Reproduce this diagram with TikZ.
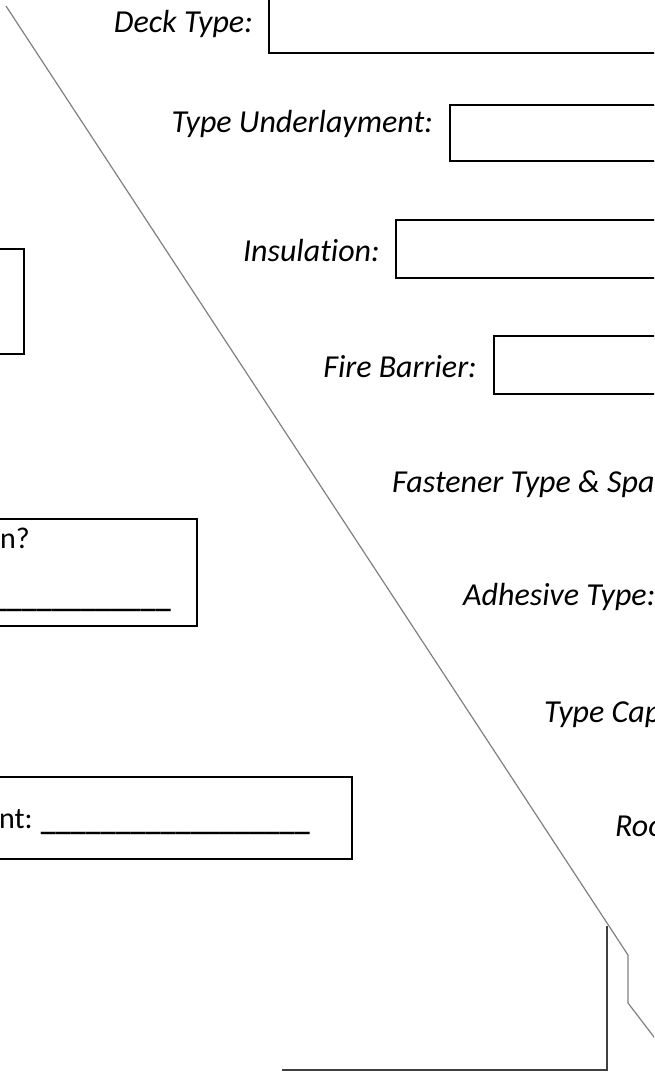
\documentclass[tikz,border=0pt]{standalone}
\usepackage{fontspec}
\setmainfont{Carlito}[Ligatures=NoCommon]
\begin{document}
\begin{tikzpicture}[x=1pt,y=-1pt,
    field/.style={draw, line width=1.6pt, anchor=north west, inner sep=0pt},
    lbl/.style={font=\fontsize{32}{38}\selectfont\itshape, inner sep=0pt},
    plain/.style={font=\fontsize{30}{36}\selectfont, inner sep=0pt},
    blank/.style={font=\fontsize{30}{36}\selectfont\bfseries, inner sep=0pt},
    cut/.style={draw=gray, line width=1.2pt}]
    \useasboundingbox (0,0) rectangle (654,1072);
    \clip (0,0) rectangle (654,1072);
    % boxes on the right side
    \node[field, minimum width=420pt, minimum height=57pt] (deckbox) at (268,-5) {};
    \node[field, minimum width=250pt, minimum height=56pt] (underbox) at (449,104) {};
    \node[field, minimum width=300pt, minimum height=58pt] (insbox) at (395,219) {};
    \node[field, minimum width=200pt, minimum height=58pt] (firebox) at (493,335) {};
    \node[lbl, anchor=base east] (decklbl) at (253,32) {Deck Type:};
    \node[lbl, anchor=base east] (underlbl) at (433,132) {Type Underlayment:};
    \node[lbl, anchor=base east] (inslbl) at (380,261) {Insulation:};
    \node[lbl, anchor=base east] (firelbl) at (477,377) {Fire Barrier:};
    \node[lbl, anchor=base west] (fastlbl) at (392,492) {Fastener Type \& Spa};
    \node[lbl, anchor=base west] (adhlbl) at (463,605) {Adhesive Type:};
    \node[lbl, anchor=base west] (caplbl) at (544,722) {Type Cap};
    \node[lbl, anchor=base west] (roolbl) at (615,836) {Roo};
    % boxes on the left side
    \node[field, minimum width=40pt, minimum height=105pt] (leftboxa) at (-17,248) {};
    \node[field, minimum width=213pt, minimum height=107pt] (leftboxb) at (-17,518) {};
    \node[field, minimum width=368pt, minimum height=82pt] (leftboxc) at (-17,776) {};
    \node[plain, anchor=base west] (qtext) at (0,548) {n?};
    \node[blank, anchor=base east] (qline) at (171,607) {\_\_\_\_\_\_\_\_\_\_\_\_};
    \node[plain, anchor=base west] (ntext) at (-1,828) {nt:};
    \node[blank, anchor=base east] (nline) at (310,830) {\_\_\_\_\_\_\_\_\_\_\_\_\_\_\_\_\_\_};
    % cut lines
    \draw[cut] (6,6) -- (628,955) -- (628,1003) -- (680,1071);
    \draw[line width=1.4pt, draw=black!75] (607,926) -- (607,1070) -- (282,1070);
\end{tikzpicture}
\end{document}
